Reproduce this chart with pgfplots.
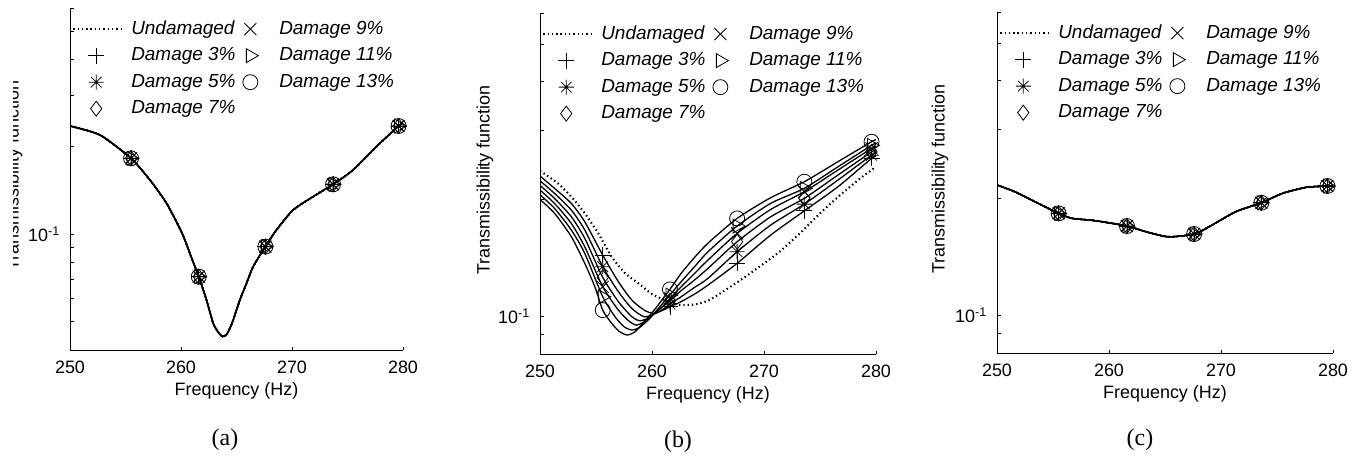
\documentclass[border=0pt]{standalone}
\usepackage{fontspec}
\setmainfont{Liberation Sans}
\newfontfamily\capfont{Liberation Serif}
\usepackage{pgfplots}
\usepackage{pgfplotstable}
\pgfplotsset{compat=1.18}

\pgfdeclareplotmark{mstar}{%
  \pgfpathmoveto{\pgfqpoint{-\pgfplotmarksize}{0pt}}\pgfpathlineto{\pgfqpoint{\pgfplotmarksize}{0pt}}%
  \pgfpathmoveto{\pgfqpoint{0pt}{-\pgfplotmarksize}}\pgfpathlineto{\pgfqpoint{0pt}{\pgfplotmarksize}}%
  \pgfpathmoveto{\pgfqpoint{-.7071\pgfplotmarksize}{-.7071\pgfplotmarksize}}\pgfpathlineto{\pgfqpoint{.7071\pgfplotmarksize}{.7071\pgfplotmarksize}}%
  \pgfpathmoveto{\pgfqpoint{-.7071\pgfplotmarksize}{.7071\pgfplotmarksize}}\pgfpathlineto{\pgfqpoint{.7071\pgfplotmarksize}{-.7071\pgfplotmarksize}}%
  \pgfusepathqstroke}

% ---------- panel (a) ----------
\pgfplotstableread{
x y
250.0 0.2357
252.7 0.2195
255.5 0.1825
257.2 0.1537
258.7 0.1278
260.1 0.1008
261.0 0.0820
261.6 0.0715
262.3 0.0594
262.9 0.0494
263.4 0.0458
263.75 0.0445
264.1 0.0452
264.4 0.0475
264.7 0.0507
265.3 0.0594
265.9 0.0678
266.5 0.0774
267.6 0.0907
268.6 0.1035
270.1 0.1212
271.9 0.1347
273.7 0.1485
275.5 0.1664
277.6 0.2001
279.6 0.2357
280.0 0.2408
}\tA
\pgfplotstableread{
x y
255.5 0.1825
261.6 0.0715
267.6 0.0907
273.7 0.1485
279.6 0.2357
}\mA

% ---------- panel (b) ----------
\pgfplotstableread{
x y
250.0 0.2362
251.6 0.2193
252.8 0.2026
254.0 0.1837
255.2 0.1632
256.4 0.1421
257.6 0.1289
258.8 0.1214
259.9 0.1145
260.8 0.1111
261.7 0.1083
262.6 0.1068
263.8 0.1072
265.0 0.1096
266.1 0.1145
267.9 0.1238
269.6 0.1340
271.4 0.1465
273.2 0.1632
275.0 0.1837
276.8 0.2046
278.6 0.2259
279.8 0.2396
280.0 0.2420
}\tBu
\pgfplotstableread{
x y
250.0 0.2290
251.3 0.2129
252.8 0.1947
254.0 0.1747
255.6 0.1435
257.0 0.1226
258.2 0.1100
259.3 0.1037
260.1 0.1017
260.8 0.1031
261.6 0.1058
262.6 0.1090
263.8 0.1140
265.0 0.1202
267.6 0.1367
270.6 0.1616
273.6 0.1864
276.6 0.2149
279.6 0.2540
280.0 0.2575
}\tBa
\pgfplotstableread{
x y
250.0 0.2227
251.3 0.2066
252.8 0.1872
254.0 0.1664
255.6 0.1340
257.0 0.1156
258.2 0.1047
259.3 0.0997
260.2 0.1013
261.1 0.1047
261.6 0.1075
262.6 0.1122
263.8 0.1186
265.0 0.1251
267.6 0.1464
270.6 0.1714
273.6 0.1940
276.6 0.2236
279.6 0.2590
280.0 0.2625
}\tBb
\pgfplotstableread{
x y
250.0 0.2166
251.3 0.2006
252.8 0.1800
254.0 0.1584
255.6 0.1258
257.0 0.1090
258.2 0.0997
258.9 0.0974
259.6 0.0987
260.5 0.1033
261.6 0.1096
262.6 0.1163
263.8 0.1239
265.0 0.1327
267.6 0.1553
270.6 0.1800
273.6 0.2007
276.6 0.2303
279.6 0.2640
280.0 0.2675
}\tBc
\pgfplotstableread{
x y
250.0 0.2107
251.3 0.1947
252.8 0.1730
254.0 0.1507
255.6 0.1190
257.0 0.1037
257.9 0.0974
258.6 0.0949
259.3 0.0968
260.2 0.1017
261.1 0.1068
261.6 0.1111
262.6 0.1190
263.8 0.1288
265.0 0.1394
267.6 0.1632
270.6 0.1880
273.6 0.2087
276.6 0.2372
279.6 0.2695
280.0 0.2730
}\tBd
\pgfplotstableread{
x y
250.0 0.2050
251.3 0.1891
252.8 0.1664
254.0 0.1449
255.6 0.1122
256.7 0.0997
257.5 0.0940
258.2 0.0922
258.9 0.0936
259.8 0.0987
260.7 0.1058
261.6 0.1134
262.6 0.1226
263.8 0.1340
265.0 0.1464
267.6 0.1704
270.6 0.1949
273.6 0.2129
276.6 0.2418
279.6 0.2745
280.0 0.2780
}\tBe
\pgfplotstableread{
x y
250.0 0.1994
251.3 0.1837
252.8 0.1600
254.0 0.1366
254.9 0.1190
255.6 0.1037
256.4 0.0959
257.1 0.0913
257.8 0.0895
258.5 0.0913
259.3 0.0968
260.2 0.1037
261.1 0.1122
261.6 0.1172
262.6 0.1288
263.8 0.1416
265.0 0.1540
267.6 0.1783
270.6 0.2015
273.6 0.2214
276.6 0.2492
279.6 0.2804
280.0 0.2840
}\tBf
\pgfplotstableread{
x d3 d5 d7 d9 d11 d13
255.6 0.1435 0.1340 0.1258 0.1190 0.1122 0.1037
261.6 0.1058 0.1075 0.1096 0.1111 0.1134 0.1172
267.6 0.1367 0.1464 0.1553 0.1632 0.1704 0.1783
273.6 0.1864 0.1940 0.2007 0.2087 0.2129 0.2214
279.6 0.2540 0.2590 0.2640 0.2695 0.2745 0.2804
}\mB

% ---------- panel (c) ----------
\pgfplotstableread{
x y
250.0 0.2159
251.6 0.2074
253.4 0.1955
255.5 0.1826
256.7 0.1773
258.8 0.1748
261.6 0.1694
263.3 0.1638
265.3 0.1590
267.6 0.1616
269.2 0.1704
271.3 0.1843
273.6 0.1944
275.5 0.2055
277.6 0.2129
279.5 0.2146
280.0 0.2150
}\tC
\pgfplotstableread{
x y
255.5 0.1826
261.6 0.1694
267.6 0.1616
273.6 0.1944
279.5 0.2146
}\mC

\pgfplotsset{
  leg1/.style={legend image code/.code={\draw[##1] plot coordinates {(23bp,0bp)}; \path (0bp,0bp) (57bp,0bp);}},
  leg2/.style={legend image code/.code={\draw[##1] plot coordinates {(14.5bp,0bp)}; \path (0bp,0bp) (43bp,0bp);}},
  legline/.style={legend image code/.code={\draw[##1] (0bp,0bp) -- (48bp,0bp); \path (0bp,0bp) (57bp,0bp);}},
  undam/.style={black, line width=2.1bp, dash pattern=on 1.4bp off 2.9bp, smooth, tension=0.4, legline},
  solidc/.style={black, line width=1.3bp, smooth, tension=0.4, forget plot},
  mkiii/.style={black, only marks, mark=+, mark size=8bp, line width=0.8bp, leg1},
  mkv/.style={black, only marks, mark=mstar, mark size=7.5bp, line width=0.8bp, leg1},
  mkvii/.style={black, only marks, mark=diamond, mark size=7.5bp, line width=0.8bp, leg1},
  mkix/.style={black, only marks, mark=x, mark size=8.5bp, line width=0.8bp, leg2},
  mkxi/.style={black, only marks, mark=triangle, mark size=8bp, mark options={rotate=-90}, line width=0.8bp, leg2},
  mkxiii/.style={black, only marks, mark=o, mark size=7.5bp, line width=0.8bp, leg2},
  mypanel/.style={
    scale only axis, xmin=250, xmax=280, ymax=0.6,
    axis x line=bottom, axis y line=left, axis line style={-, line width=0.8bp, black},
    tick align=inside, major tick length=3.5bp, minor tick length=3.5bp,
    tick style={line width=0.7bp, black},
    xtick={250,260,270,280},
    ytick={0.1}, yticklabels={10\textsuperscript{-1}},
    /pgf/number format/assume math mode=true,
    /pgf/number format/1000 sep={},
    ticklabel style={font=\fontsize{18}{20}\selectfont},
    xticklabel style={inner sep=0pt, yshift=-10.5bp},
    yticklabel style={inner sep=0pt, xshift=-10bp},
    xlabel={Frequency (Hz)},
    ylabel={Transmissibility function},
    every axis x label/.style={at={(axis description cs:0.5,0)}, anchor=north, inner sep=0pt, yshift=-32bp, font=\fontsize{18}{20}\selectfont},
    every axis y label/.style={at={(axis description cs:-0.165,0.51)}, rotate=90, anchor=center, inner sep=0pt, font=\fontsize{18}{20}\selectfont},
    legend columns=2, legend cell align=left,
    legend style={draw=none, fill=none, at={(axis description cs:0.006,0.965)}, anchor=north west,
      inner sep=0pt, row sep=8.5bp, column sep=0pt,
      nodes={inner sep=0pt, text height=14bp, text depth=4bp,
        font={\fontsize{19}{22}\selectfont\itshape}}},
  },
}

\begin{document}
\begin{tikzpicture}
\useasboundingbox (0,0) rectangle (1362bp,456bp);
% ---------------- (a)
\begin{axis}[ymode=log, mypanel, at={(70bp,106bp)}, anchor=south west, width=333bp, height=342bp, ymin=0.04,
  minor ytick={0.04,0.05,0.06,0.07,0.08,0.09,0.2,0.3,0.4,0.5,0.6},
  ylabel style={at={(axis description cs:-0.168,0.51)}}]
\addplot[undam] table {\tA};
\addplot[solidc] table {\tA};
\addplot[solidc] table {\tA};
\addplot[solidc] table {\tA};
\addplot[solidc] table {\tA};
\addplot[solidc] table {\tA};
\addplot[solidc] table {\tA};
\addplot[mkix] table {\mA};
\addplot[mkiii] table {\mA};
\addplot[mkxi] table {\mA};
\addplot[mkv] table {\mA};
\addplot[mkxiii] table {\mA};
\addplot[mkvii] table {\mA};
\legend{Undamaged, Damage 9\%, Damage 3\%, Damage 11\%, Damage 5\%, Damage 13\%, Damage 7\%}
\end{axis}
% ---------------- (b)
\begin{axis}[ymode=log, mypanel, at={(540bp,102bp)}, anchor=south west, width=336bp, height=341bp, ymin=0.08,
  minor ytick={0.08,0.09,0.2,0.3,0.4,0.5,0.6},
  ylabel style={at={(axis description cs:-0.164,0.51)}}]
\addplot[undam] table {\tBu};
\addplot[solidc] table {\tBa};
\addplot[solidc] table {\tBb};
\addplot[solidc] table {\tBc};
\addplot[solidc] table {\tBd};
\addplot[solidc] table {\tBe};
\addplot[solidc] table {\tBf};
\addplot[mkix] table[x=x, y=d9] {\mB};
\addplot[mkiii] table[x=x, y=d3] {\mB};
\addplot[mkxi] table[x=x, y=d11] {\mB};
\addplot[mkv] table[x=x, y=d5] {\mB};
\addplot[mkxiii] table[x=x, y=d13] {\mB};
\addplot[mkvii] table[x=x, y=d7] {\mB};
\legend{Undamaged, Damage 9\%, Damage 3\%, Damage 11\%, Damage 5\%, Damage 13\%, Damage 7\%}
\end{axis}
% ---------------- (c)
\begin{axis}[ymode=log, mypanel, at={(997bp,103bp)}, anchor=south west, width=336bp, height=341bp, ymin=0.08,
  minor ytick={0.08,0.09,0.2,0.3,0.4,0.5,0.6},
  ylabel style={at={(axis description cs:-0.17,0.51)}}]
\addplot[undam] table {\tC};
\addplot[solidc] table {\tC};
\addplot[solidc] table {\tC};
\addplot[solidc] table {\tC};
\addplot[solidc] table {\tC};
\addplot[solidc] table {\tC};
\addplot[solidc] table {\tC};
\addplot[mkix] table {\mC};
\addplot[mkiii] table {\mC};
\addplot[mkxi] table {\mC};
\addplot[mkv] table {\mC};
\addplot[mkxiii] table {\mC};
\addplot[mkvii] table {\mC};
\legend{Undamaged, Damage 9\%, Damage 3\%, Damage 11\%, Damage 5\%, Damage 13\%, Damage 7\%}
\end{axis}
\fill[white] (0bp,0bp) rectangle (13.3bp,456bp);
\node[font=\capfont\fontsize{24}{26}\selectfont] at (225bp,16bp) {(a)};
\node[font=\capfont\fontsize{24}{26}\selectfont] at (678bp,14bp) {(b)};
\node[font=\capfont\fontsize{24}{26}\selectfont] at (1140bp,16bp) {(c)};
\end{tikzpicture}
\end{document}
